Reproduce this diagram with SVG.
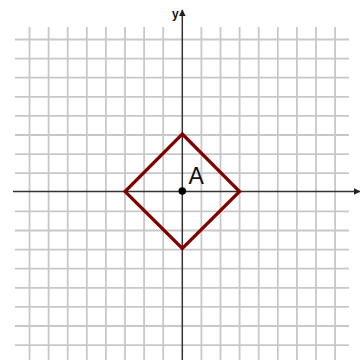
<svg xmlns="http://www.w3.org/2000/svg" width="360" height="360" viewBox="0 0 360 360">
<style>
.grid line{stroke:#c8c8c8;stroke-width:1.8}
.axis{stroke:#333;stroke-width:1.5;fill:none}
.shape{fill:none;stroke:#800000;stroke-width:3.2;stroke-linejoin:miter}
.lbl{font-family:"Liberation Sans",Arial,sans-serif;fill:#111}
</style>
<defs>
<marker id="arr" viewBox="0 0 10 10" refX="9" refY="5" markerWidth="7" markerHeight="7" orient="auto" markerUnits="userSpaceOnUse">
<path d="M0,0 L10,5 L0,10 z" fill="#222"/>
</marker>
</defs>
<rect width="360" height="360" fill="#fff"/>
<g class="grid" id="grid">
<line x1="29.5" y1="27" x2="29.5" y2="360"/>
<line x1="48.6" y1="27" x2="48.6" y2="360"/>
<line x1="67.7" y1="27" x2="67.7" y2="360"/>
<line x1="86.8" y1="27" x2="86.8" y2="360"/>
<line x1="105.9" y1="27" x2="105.9" y2="360"/>
<line x1="125" y1="27" x2="125" y2="360"/>
<line x1="144.1" y1="27" x2="144.1" y2="360"/>
<line x1="163.2" y1="27" x2="163.2" y2="360"/>
<line x1="201.4" y1="27" x2="201.4" y2="360"/>
<line x1="220.5" y1="27" x2="220.5" y2="360"/>
<line x1="239.6" y1="27" x2="239.6" y2="360"/>
<line x1="258.7" y1="27" x2="258.7" y2="360"/>
<line x1="277.8" y1="27" x2="277.8" y2="360"/>
<line x1="296.9" y1="27" x2="296.9" y2="360"/>
<line x1="316" y1="27" x2="316" y2="360"/>
<line x1="335.1" y1="27" x2="335.1" y2="360"/>
<line x1="15" y1="39.5" x2="349" y2="39.5"/>
<line x1="15" y1="58.6" x2="349" y2="58.6"/>
<line x1="15" y1="77.7" x2="349" y2="77.7"/>
<line x1="15" y1="96.8" x2="349" y2="96.8"/>
<line x1="15" y1="115.9" x2="349" y2="115.9"/>
<line x1="15" y1="135" x2="349" y2="135"/>
<line x1="15" y1="154.1" x2="349" y2="154.1"/>
<line x1="15" y1="173.2" x2="349" y2="173.2"/>
<line x1="15" y1="211.4" x2="349" y2="211.4"/>
<line x1="15" y1="230.5" x2="349" y2="230.5"/>
<line x1="15" y1="249.6" x2="349" y2="249.6"/>
<line x1="15" y1="268.7" x2="349" y2="268.7"/>
<line x1="15" y1="287.8" x2="349" y2="287.8"/>
<line x1="15" y1="306.9" x2="349" y2="306.9"/>
<line x1="15" y1="326" x2="349" y2="326"/>
<line x1="15" y1="345.1" x2="349" y2="345.1"/>
</g>
<g id="axes">
<line class="axis" x1="13" y1="191.5" x2="360" y2="191.5" marker-end="url(#arr)"/>
<line class="axis" x1="182.3" y1="360" x2="182.3" y2="10" marker-end="url(#arr)"/>
<text class="lbl" x="172" y="18" font-size="12" font-weight="bold" fill="#334">y</text>
</g>
<g id="diamond">
<polygon class="shape" points="182.3,134 239.6,191.5 182.3,248.5 125,191.5"/>
</g>
<g id="pointA">
<circle cx="182.3" cy="191" r="3.8" fill="#000"/>
<text class="lbl" x="188.5" y="183.5" font-size="23">A</text>
</g>
</svg>
